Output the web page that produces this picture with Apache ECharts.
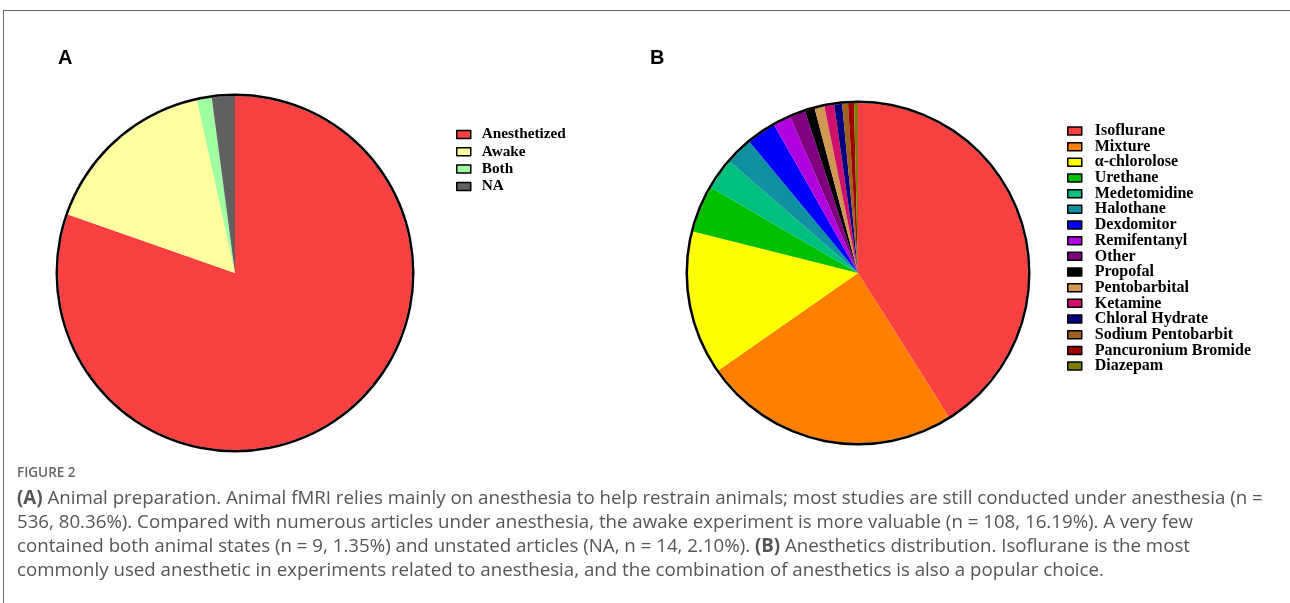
<!DOCTYPE html>
<html>
<head>
<meta charset="utf-8">
<script src="https://cdn.jsdelivr.net/npm/echarts@6/dist/echarts.min.js"></script>
<style>
html,body{margin:0;padding:0;background:#fff;}
#frame{position:absolute;left:3px;top:10px;width:1287px;height:593px;border-top:1px solid #666;border-left:1px solid #666;box-sizing:border-box;}
#chart{position:absolute;left:0;top:0;width:1290px;height:603px;}
</style>
</head>
<body>
<div id="frame"></div>
<div id="chart"></div>
<script>
// Panel A: animal preparation
const aNames = ['Anesthetized', 'Awake', 'Both', 'NA'];
const aValues = [536, 108, 9, 14];
const aColors = ['#FA4040', '#FFFFA0', '#A0FFA0', '#606060'];

// Panel B: anesthetics distribution
const bNames = ['Isoflurane', 'Mixture', 'α-chlorolose', 'Urethane', 'Medetomidine', 'Halothane',
  'Dexdomitor', 'Remifentanyl', 'Other', 'Propofal', 'Pentobarbital', 'Ketamine',
  'Chloral Hydrate', 'Sodium Pentobarbit', 'Pancuronium Bromide', 'Diazepam'];
const bValues = [220, 130, 73, 24, 16, 14, 15, 9, 8, 5, 5, 5, 4, 3, 3, 2];
const bColors = ['#FA4040', '#FF8000', '#FFFF00', '#00C000', '#00C080', '#1090A0',
  '#0000FF', '#B000E0', '#800080', '#000000', '#D09850', '#D0106A',
  '#000080', '#A06020', '#A00000', '#808000'];

const panelLabels = ['A', 'B'];
const figureLabel = 'FIGURE 2';
const captionLines = [
  '{b|(A)} Animal preparation. Animal fMRI relies mainly on anesthesia to help restrain animals; most studies are still conducted under anesthesia (n =',
  '536, 80.36%). Compared with numerous articles under anesthesia, the awake experiment is more valuable (n = 108, 16.19%). A very few',
  'contained both animal states (n = 9, 1.35%) and unstated articles (NA, n = 14, 2.10%). {b|(B)} Anesthetics distribution. Isoflurane is the most',
  'commonly used anesthetic in experiments related to anesthesia, and the combination of anesthetics is also a popular choice.'
];

const chart = echarts.init(document.getElementById('chart'), null, {renderer: 'canvas'});

function pieData(names, values, colors) {
  return names.map((n, i) => ({name: n, value: values[i], itemStyle: {color: colors[i]}}));
}

const capSize = 18.7;
const capStyle = {
  fontFamily: 'Open Sans', fontSize: capSize, lineHeight: 24, color: '#555', fontWeight: 'normal',
  rich: {b: {fontFamily: 'Open Sans', fontSize: capSize, lineHeight: 24, color: '#555', fontWeight: 'bold'}}
};

const titles = [
  {text: panelLabels[0], left: 58, top: 48, padding: 0, textStyle: {fontFamily: 'Liberation Sans', fontWeight: 'bold', fontSize: 20, lineHeight: 20, color: '#000'}},
  {text: panelLabels[1], left: 650, top: 48, padding: 0, textStyle: {fontFamily: 'Liberation Sans', fontWeight: 'bold', fontSize: 20, lineHeight: 20, color: '#000'}},
  {text: figureLabel, left: 17, top: 465, padding: 0, textStyle: {fontFamily: 'Open Sans', fontWeight: 600, fontSize: 13.5, lineHeight: 16, color: '#666'}}
];
captionLines.forEach((t, i) => {
  titles.push({text: t, left: 17, top: 487 + i * 24, padding: 0, textStyle: capStyle});
});

const legendText = {fontFamily: 'Liberation Serif', fontWeight: 'bold', color: '#000'};

chart.setOption({
  animation: false,
  title: titles,
  legend: [
    {
      data: aNames, orient: 'vertical', left: 456, top: 127, padding: 0,
      icon: 'rect', itemWidth: 14, itemHeight: 8, itemGap: 2.3,
      itemStyle: {borderColor: '#000', borderWidth: 1.5},
      textStyle: Object.assign({fontSize: 15.3, padding: [0, 0, 0, 6]}, legendText),
      selectedMode: false
    },
    {
      data: bNames, orient: 'vertical', left: 1067, top: 123, padding: 0,
      icon: 'rect', itemWidth: 14, itemHeight: 8, itemGap: -0.33,
      itemStyle: {borderColor: '#000', borderWidth: 1.5},
      textStyle: Object.assign({fontSize: 16, padding: [0, 0, 0, 8]}, legendText),
      selectedMode: false
    }
  ],
  series: [
    {
      type: 'pie', center: [235, 273], radius: [0, 177], startAngle: 90, clockwise: true,
      label: {show: false}, labelLine: {show: false}, emphasis: {disabled: true}, silent: true,
      itemStyle: {borderWidth: 0},
      data: pieData(aNames, aValues, aColors)
    },
    {
      type: 'pie', center: [235, 273], radius: [177, 179.5], silent: true,
      label: {show: false}, labelLine: {show: false}, emphasis: {disabled: true},
      data: [{name: 'outlineA', value: 1, itemStyle: {color: '#000'}}]
    },
    {
      type: 'pie', center: [858, 273], radius: [0, 170], startAngle: 90, clockwise: true,
      label: {show: false}, labelLine: {show: false}, emphasis: {disabled: true}, silent: true,
      itemStyle: {borderWidth: 0},
      data: pieData(bNames, bValues, bColors)
    },
    {
      type: 'pie', center: [858, 273], radius: [170, 172.5], silent: true,
      label: {show: false}, labelLine: {show: false}, emphasis: {disabled: true},
      data: [{name: 'outlineB', value: 1, itemStyle: {color: '#000'}}]
    }
  ]
});
</script>
</body>
</html>
